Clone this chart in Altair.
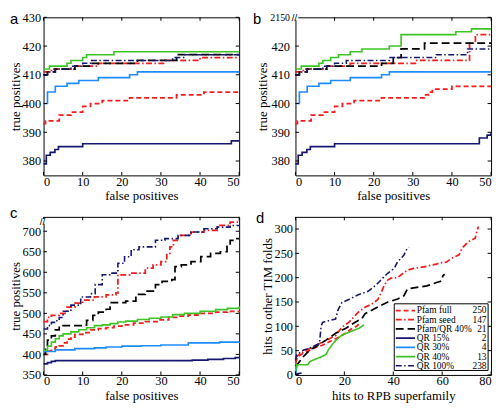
import altair as alt
import pandas as pd

# ---------------- data ----------------
SERIES = ["Pfam full", "Pfam seed", "Pfam/QR 40%", "QR 15%", "QR 30%", "QR 40%", "QR 100%"]
COUNTS = ["250", "147", "21", "2", "4", "13", "238"]
COLORS = ["#f21d1d", "#f21d1d", "#000000", "#17176e", "#1e8cff", "#3cc424", "#17176e"]
DASHES = [[5, 3], [6, 2.5, 1.5, 2.5], [8, 4], [1, 0], [1, 0], [1, 0], [6, 2.5, 1.5, 2.5]]
WIDTHS = [1.8, 1.6, 2.2, 1.8, 1.8, 1.6, 1.6]
PANEL_LABELS = ["a", "b", "c", "d"]

FP_TICKS = [0, 10, 20, 30, 40, 50]
AB_Y_TICKS = [380, 390, 400, 410, 420, 430]
C_Y_TICKS = [350, 400, 450, 500, 550, 600, 650, 700]
D_X_TICKS = [0, 20, 40, 60, 80]
D_Y_TICKS = [0, 50, 100, 150, 200, 250, 300]

# panel a (false positives, true positives)
A_PFAM_FULL = [(0, 393), (0.5, 394), (4, 396), (7, 397), (10, 399), (12, 400), (15, 401), (22, 402), (34, 403), (41, 404), (50, 404)]
A_PFAM_SEED = [(0, 411), (2, 412), (8, 413), (14, 414), (31, 415), (40, 416), (50, 416)]
A_PFAM_QR40 = [(0, 410), (1, 411), (3, 412), (8, 413), (12, 414), (24, 415), (34, 417), (50, 417)]
A_QR15 = [(0, 379), (0.7, 382), (1.7, 383), (2.9, 384), (3.8, 385), (10, 386), (48, 387), (50, 387)]
A_QR30 = [(0, 400), (1, 404), (3, 406), (6, 407), (9, 408), (14, 409), (22, 410), (24, 411), (50, 411)]
A_QR40 = [(0, 412), (1.5, 413), (6, 414), (7, 415), (10, 416), (11, 417), (18, 418), (50, 418)]
A_QR100 = [(0, 410), (1, 411), (3, 412), (7, 413), (10, 414), (12, 415), (33, 416), (36, 417), (50, 417)]

# panel b
B_PFAM_FULL = [(0, 393), (0.5, 394), (4, 396), (7, 397), (10, 399), (12, 400), (15, 401), (22, 402), (33, 403), (34, 404), (35, 405), (40, 406), (50, 406)]
B_PFAM_SEED = [(0, 411), (2, 412), (8, 413), (14, 414), (31, 415), (44.5, 421), (46, 424), (50, 424)]
B_PFAM_QR40 = [(0, 410), (1, 411), (3, 412), (8, 413), (22, 414), (25, 416), (27, 419), (33, 421), (50, 421)]
B_QR15 = [(0, 379), (0.7, 382), (1.7, 383), (2.9, 384), (3.8, 385), (10, 386), (47, 388), (49, 389), (50, 390)]
B_QR30 = [(0, 400), (1, 404), (3, 406), (6, 407), (9, 408), (14, 409), (22, 410), (24, 411), (50, 411)]
B_QR40 = [(0, 412), (1.5, 413), (6, 414), (7, 415), (9, 416), (11, 417), (14, 418), (17, 419), (24, 420), (27, 424), (41, 425), (45, 426), (50, 426)]
B_QR100 = [(0, 410), (1, 411), (3, 412), (7, 413), (10, 414), (13, 415), (24, 416), (36, 417), (44, 419), (50, 419)]

# panel c
C_PFAM_FULL = [(0, 400), (1, 408), (2, 413), (3, 418), (4, 421), (5, 428), (6, 437), (7, 442), (8, 449), (10, 453), (12, 460), (14, 463), (16, 465), (18, 469), (20, 472), (23, 476), (26, 480), (29, 484), (32, 490), (34, 493), (37, 496), (40, 500), (44, 503), (47, 505), (50, 507)]
C_PFAM_SEED = [(0, 480), (1, 490), (2, 495), (4, 500), (6, 515), (8, 525), (10, 532), (13, 540), (16, 545), (18.5, 550), (19, 594), (22, 598), (26, 610), (28, 618), (30, 626), (31.5, 646), (32.3, 662), (33.2, 678), (34.4, 690), (37.7, 698), (41, 702), (44.4, 714), (47.7, 722), (50, 726)]
C_PFAM_QR40 = [(0, 400), (0.5, 420), (1, 435), (2, 445), (3, 460), (4, 470), (10, 471), (11, 483), (12.6, 495), (14, 503), (16, 510), (17, 526), (21, 530), (23.6, 546), (26, 554), (28.6, 570), (30.3, 578), (32.8, 582), (33.6, 614), (35.2, 618), (37.7, 626), (40.2, 638), (42.7, 646), (45.2, 650), (46.9, 666), (47.7, 678), (49.4, 682), (50, 682)]
C_QR15 = [(0, 377), (1, 380), (2, 383), (3, 385), (38, 386), (42, 388), (46, 390), (49, 392), (50, 393)]
C_QR30 = [(0, 407), (3, 411), (8, 414), (13, 416), (16, 418), (20, 420), (25, 421), (30, 423), (37, 428), (45, 430), (50, 431)]
C_QR40 = [(0, 410), (1, 420), (2, 430), (3, 438), (4, 445), (5, 450), (7, 455), (9, 460), (11, 465), (13, 470), (15, 472), (17, 475), (19, 479), (21, 481), (24, 485), (27, 488), (30, 491), (33, 497), (36, 500), (40, 505), (44, 509), (47, 512), (50, 517)]
C_QR100 = [(0, 462), (1, 470), (2, 478), (3, 482), (4, 490), (5, 505), (7, 520), (9.5, 540), (12, 548), (13.2, 570), (15, 594), (17, 598), (19, 622), (20.7, 638), (22.4, 655), (24.4, 662), (28.6, 678), (31, 682), (34.4, 690), (37.7, 698), (41, 706), (44.4, 710), (47.7, 714), (50, 716)]

# panel d (hits to RPB superfamily, hits to other TIM folds)
D_PFAM_FULL = [(0, 25), (1, 38), (3, 44), (5, 48), (7, 54), (9, 58), (11, 61), (13, 66), (15, 71), (17, 76), (19, 81), (21, 88), (23, 95), (25, 100), (26.5, 108)]
D_PFAM_SEED = [(0, 35), (2, 44), (4.5, 51), (8.5, 61), (12.5, 71), (16.5, 81), (19, 98), (21.8, 108), (24.4, 122), (25.7, 129), (28.4, 139), (31, 145), (33.7, 155), (35.1, 170), (36.4, 185), (37.7, 195), (39, 199), (41.7, 200), (44.3, 210), (45.6, 215), (48.3, 219), (52.3, 222), (57.6, 228), (59, 230), (61.7, 232), (64.3, 241), (66.9, 247), (68.2, 261), (70.8, 274), (73.5, 281), (74.2, 295), (74.8, 305)]
D_PFAM_QR40 = [(0, 18), (1.3, 25), (3.3, 38), (6, 52), (8.6, 59), (12.6, 72), (16.6, 86), (20.6, 96), (24.6, 109), (27.2, 116), (28.5, 126), (31.2, 133), (33.8, 140), (37.8, 150), (41.8, 156), (44.4, 163), (45.8, 177), (49.7, 180), (53.7, 183), (57.7, 190), (59.7, 193), (60.3, 204), (61, 207)]
D_QR15 = [(0, 0), (0.5, 2), (1.5, 3), (2.5, 4)]
D_QR30 = [(0, 5), (0.3, 12), (0.6, 18), (1, 22)]
D_QR40 = [(0, 8), (0.5, 21), (5, 21), (6, 28), (9, 34), (10, 36), (12.5, 42), (13.5, 52), (15, 62), (16.5, 71), (19, 82), (22, 88), (24, 92), (26, 96), (28, 103)]
D_QR100 = [(0, 30), (0.5, 41), (3.2, 51), (5.8, 55), (9.8, 65), (10.5, 100), (11.1, 108), (13.8, 112), (16.4, 115), (17.5, 135), (19, 149), (21.8, 155), (25.7, 165), (29.7, 172), (33, 185), (35.7, 199), (37.7, 209), (40.4, 219), (41.7, 232), (44.3, 246), (45.6, 259), (46.5, 262)]

# ---------------- layout / style ----------------
FONT = "Liberation Serif"
W, H = 198, 160
TL = 3.5

cs = alt.Scale(domain=SERIES, range=COLORS)
ds = alt.Scale(domain=SERIES, range=DASHES)
ws = alt.Scale(domain=SERIES, range=WIDTHS)


def to_frame(lists):
    rows = []
    for name, pts in zip(SERIES, lists):
        for i, (x, y) in enumerate(pts):
            rows.append({"series": name, "x": x, "y": y, "i": i})
    return pd.DataFrame(rows)


def one(val):
    return alt.Chart(pd.DataFrame({"t": [val]}))


def panel(lists, xdom, ydom, xticks, yticks, xtitle, ytitle, letter, lxy, interp,
          ylab_pad=3, ylab_expr=None, ylab_size=None, brk=None, legend=False):
    xs = alt.Scale(domain=xdom, nice=False, zero=False)
    ys = alt.Scale(domain=ydom, nice=False, zero=False)
    xaxis = alt.Axis(values=xticks, title=xtitle, ticks=False, tickSize=0, domain=False,
                     grid=False, labelPadding=0, titlePadding=2, format="d")
    yargs = dict(values=yticks, title=ytitle, ticks=False, tickSize=0, domain=False,
                 grid=False, labelPadding=ylab_pad, titlePadding=0, format="d")
    if ylab_expr:
        yargs["labelExpr"] = ylab_expr
    if ylab_size:
        yargs["labelFontSize"] = ylab_size
    yaxis = alt.Axis(**yargs)

    lines = alt.Chart(to_frame(lists)).mark_line(interpolate=interp).encode(
        x=alt.X("x:Q", scale=xs, axis=xaxis),
        y=alt.Y("y:Q", scale=ys, axis=yaxis),
        color=alt.Color("series:N", scale=cs, legend=None),
        strokeDash=alt.StrokeDash("series:N", scale=ds, legend=None),
        strokeWidth=alt.StrokeWidth("series:N", scale=ws, legend=None),
        order=alt.Order("i:Q"),
    )
    xt = alt.Chart(pd.DataFrame({"v": xticks}))
    yt = alt.Chart(pd.DataFrame({"v": yticks}))
    rule = dict(color="black", strokeWidth=1)
    tb = xt.mark_rule(**rule).encode(x=alt.X("v:Q", scale=xs, axis=xaxis), y=alt.value(H), y2=alt.value(H - TL))
    tt = xt.mark_rule(**rule).encode(x=alt.X("v:Q", scale=xs, axis=xaxis), y=alt.value(0), y2=alt.value(TL))
    tl = yt.mark_rule(**rule).encode(y=alt.Y("v:Q", scale=ys, axis=yaxis), x=alt.value(0), x2=alt.value(TL))
    tr = yt.mark_rule(**rule).encode(y=alt.Y("v:Q", scale=ys, axis=yaxis), x=alt.value(W), x2=alt.value(W - TL))
    let = one(letter).mark_text(font="Liberation Sans", fontSize=15, align="left",
                                baseline="middle", color="black").encode(
        text="t:N", x=alt.value(lxy[0]), y=alt.value(lxy[1]))
    layers = [lines, tb, tt, tl, tr, let]
    if brk is not None:
        layers.append(one(0).mark_rect(color="white").encode(
            x=alt.value(-3), x2=alt.value(3), y=alt.value(brk - 3), y2=alt.value(brk + 2)))
        layers.append(one("//").mark_text(font="Liberation Sans", fontSize=10, align="center",
                                          baseline="middle", color="black").encode(
            text="t:N", x=alt.value(-1), y=alt.value(brk)))
    if legend:
        leg = pd.DataFrame({"series": SERIES, "count": COUNTS, "k": list(range(len(SERIES)))})
        base = alt.Chart(leg).transform_calculate(py="94.8 + datum.k * 9.33")
        layers.append(one(0).mark_rect(fill="white", stroke="black", strokeWidth=1).encode(
            x=alt.value(100), x2=alt.value(195), y=alt.value(88), y2=alt.value(155.5)))
        layers.append(base.mark_rule().encode(
            x=alt.value(101.5), x2=alt.value(121),
            y=alt.Y("py:Q", scale=None, axis=None),
            color=alt.Color("series:N", scale=cs, legend=None),
            strokeDash=alt.StrokeDash("series:N", scale=ds, legend=None),
            strokeWidth=alt.StrokeWidth("series:N", scale=ws, legend=None)))
        layers.append(base.mark_text(align="left", baseline="middle", font=FONT, fontSize=9.5,
                                     color="black").encode(
            x=alt.value(122.8), y=alt.Y("py:Q", scale=None, axis=None), text="series:N"))
        layers.append(base.mark_text(align="right", baseline="middle", font=FONT, fontSize=9.5,
                                     color="black").encode(
            x=alt.value(193.4), y=alt.Y("py:Q", scale=None, axis=None), text="count:N"))
    return alt.layer(*layers).properties(width=W, height=H)


pa = panel([A_PFAM_FULL, A_PFAM_SEED, A_PFAM_QR40, A_QR15, A_QR30, A_QR40, A_QR100],
           [0, 50], [375, 430], FP_TICKS, AB_Y_TICKS, "false positives", "true positives",
           PANEL_LABELS[0], (-34, 1.25), "step-after")
pb = panel([B_PFAM_FULL, B_PFAM_SEED, B_PFAM_QR40, B_QR15, B_QR30, B_QR40, B_QR100],
           [0, 50], [375, 430], FP_TICKS, AB_Y_TICKS, "false positives", "true positives",
           PANEL_LABELS[1], (-43, 1.25), "step-after", ylab_pad=6,
           ylab_expr="datum.value == 430 ? '2150' : datum.label",
           ylab_size={"condition": {"test": "datum.value == 430", "value": 10}, "value": 12.5},
           brk=1)
pc = panel([C_PFAM_FULL, C_PFAM_SEED, C_PFAM_QR40, C_QR15, C_QR30, C_QR40, C_QR100],
           [0, 50], [350, 735], FP_TICKS, C_Y_TICKS, "false positives", "true positives",
           PANEL_LABELS[2], (-34, -4), "step-after", brk=5)
pd_ = panel([D_PFAM_FULL, D_PFAM_SEED, D_PFAM_QR40, D_QR15, D_QR30, D_QR40, D_QR100],
            [0, 80], [0, 325], D_X_TICKS, D_Y_TICKS, "hits to RPB superfamily",
            "hits to other TIM folds", PANEL_LABELS[3], (-40, 1.7), "linear", legend=True)

chart = alt.concat(pa, pb, pc, pd_, columns=2, spacing={"row": 2, "column": 8}).properties(
    padding=0
).configure(background="white").configure_view(stroke="black", strokeWidth=1).configure_axis(
    labelFont=FONT, titleFont=FONT, labelFontSize=12.5, titleFontSize=13,
    titleFontWeight="normal", labelColor="black", titleColor="black"
)

chart.save("out.html", embed_options={"renderer": "svg", "actions": False})
